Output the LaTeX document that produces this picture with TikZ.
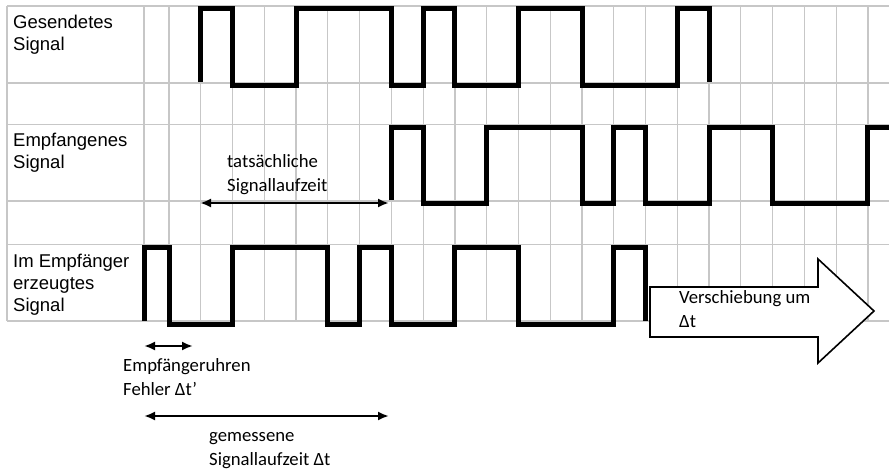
\documentclass[tikz,border=0pt]{standalone}
\usepackage{fontspec}
\setsansfont{Liberation Sans}
\newfontfamily\calibri{Carlito}
\usetikzlibrary{arrows.meta}

% x-Position der Gitterlinie k
\newcommand{\cx}[1]{169+31.77*#1}

\begin{document}
\begin{tikzpicture}[x=1pt, y=-1pt,
    gitter/.style={draw=black!22, line width=1.2pt},
    signal/.style={line width=5pt},
    lbl/.style={inner sep=0, anchor=north west, align=left, font=\sffamily\fontsize{18.5}{22}\selectfont},
    notiz/.style={inner sep=0, anchor=north west, align=left, font=\calibri\fontsize{18.7}{24}\selectfont},
    pfeil/.style={line width=2.2pt, {Latex[length=11pt,width=9pt]}-{Latex[length=11pt,width=9pt]}}]

    \useasboundingbox (0,0) rectangle (889,472);

    % Gitter
    \foreach \y in {6,83,124.5,201,244.5,321}
        \draw[gitter] (7,\y) -- (889,\y);
    \foreach \x in {7,144}
        \draw[gitter] (\x,6) -- (\x,321);
    \foreach \k in {0,...,22}
        \draw[gitter] ({\cx{\k}},6) -- ({\cx{\k}},321);

    % Gesendetes Signal
    \draw[signal] ({\cx{1}},82) |- ({\cx{2}},8.5) |- ({\cx{4}},85) |- ({\cx{7}},8.5)
        |- ({\cx{8}},85) |- ({\cx{9}},8.5) |- ({\cx{11}},85) |- ({\cx{13}},8.5)
        |- ({\cx{16}},85) |- ({\cx{17}},8.5) -- ({\cx{17}},82);

    % Empfangenes Signal
    \draw[signal] ({\cx{7}},200) |- ({\cx{8}},127) |- ({\cx{10}},203.5) |- ({\cx{13}},127)
        |- ({\cx{14}},203.5) |- ({\cx{15}},127) |- ({\cx{17}},203.5) |- ({\cx{19}},127)
        |- ({\cx{22}},203.5) |- (889,127);

    % Im Empfaenger erzeugtes Signal
    \draw[signal] (144,321) |- ({\cx{0}},247.5) |- ({\cx{2}},324) |- ({\cx{5}},247.5)
        |- ({\cx{6}},324) |- ({\cx{7}},247.5) |- ({\cx{9}},324) |- ({\cx{11}},247.5)
        |- ({\cx{14}},324) |- ({\cx{15}},247.5) -- ({\cx{15}},321);

    % Beschriftungen
    \node[lbl] (gesendet) at (13,12.6) {\strut Gesendetes\\Signal};
    \node[lbl] (empfangen) at (13,131.3) {\strut Empfangenes\\Signal};
    \node[lbl] (erzeugt) at (13,252.3) {\strut Im Empfänger\\erzeugtes\\Signal};

    % Verschiebung
    \draw[line width=1.6pt, fill=white] (650,287) -- (818,287) -- (818,259) -- (874,311)
        -- (818,363) -- (818,337) -- (650,337) -- cycle;
    \node[notiz] (verschiebung) at (679,286.5) {\strut Verschiebung um\\Δt};

    % Laufzeiten
    \coordinate (real-a) at (200,203);
    \coordinate (real-b) at (389,203);
    \draw[pfeil] (real-a) -- (real-b);
    \node[notiz] (real) at (227,150.2) {\strut tatsächliche\\Signallaufzeit};

    \coordinate (uhr-a) at (144,346);
    \coordinate (uhr-b) at (193,346);
    \draw[pfeil] (uhr-a) -- (uhr-b);
    \node[notiz] (uhr) at (123,354.9) {\strut Empfängeruhren\\Fehler Δt’};

    \coordinate (mess-a) at (144,416);
    \coordinate (mess-b) at (389,416);
    \draw[pfeil] (mess-a) -- (mess-b);
    \node[notiz] (mess) at (209,424.2) {\strut gemessene\\Signallaufzeit Δt};

\end{tikzpicture}
\end{document}
